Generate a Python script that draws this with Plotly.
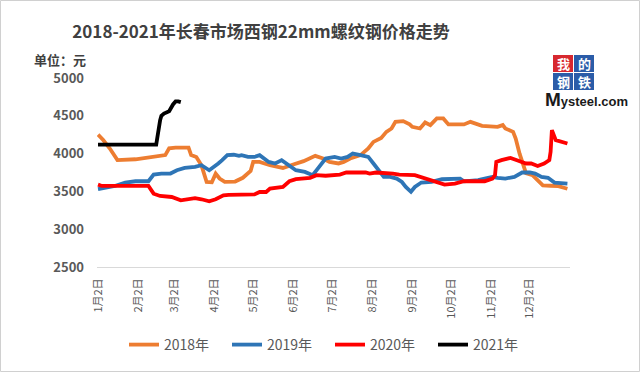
import plotly.graph_objects as go

# ---------------- data (month-day, price in 元) ----------------
d2018 = ["01-02","01-06","01-11","01-17","01-31","02-14","02-23","02-26","03-03","03-13",
         "03-15","03-19","03-23","03-27","03-31","04-03","04-06","04-10","04-18","04-24",
         "04-30","05-02","05-07","05-15","05-25","06-02","06-10","06-19","06-25","06-30",
         "07-07","07-11","07-16","07-24","07-30","08-03","08-09","08-13","08-17","08-20",
         "08-26","08-31","09-02","09-08","09-12","09-16","09-21","09-26","09-30","10-12",
         "10-17","10-26","11-07","11-11","11-13","11-19","11-21","11-24","11-27","11-29",
         "12-04","12-08","12-12","12-18","12-24","12-31"]
v2018 = [4250,4180,4070,3915,3925,3955,3980,4070,4080,4080,
         3980,3955,3845,3625,3620,3735,3670,3625,3630,3680,
         3770,3890,3890,3846,3810,3856,3900,3970,3935,3890,
         3870,3890,3935,3980,4067,4155,4208,4288,4332,4420,
         4430,4386,4354,4332,4412,4377,4465,4465,4386,4386,
         4420,4368,4354,4377,4332,4288,4200,4000,3850,3740,
         3714,3648,3581,3575,3570,3535]

d2019 = ["01-02","01-06","01-15","01-23","01-31","02-10","02-14","02-20","02-27","03-04",
         "03-10","03-18","03-23","03-29","04-03","04-05","04-08","04-12","04-17","04-21",
         "04-23","04-28","05-03","05-07","05-14","05-19","05-24","05-29","06-04","06-11",
         "06-17","06-22","06-27","07-04","07-09","07-14","07-18","07-24","07-30","08-03",
         "08-07","08-11","08-16","08-21","08-25","08-28","09-01","09-04","09-09","09-17",
         "09-25","10-02","10-09","10-12","10-23","10-28","11-03","11-07","11-13","11-20",
         "11-26","12-02","12-06","12-11","12-16","12-21","12-31"]
v2019 = [3530,3545,3572,3617,3634,3634,3723,3736,3736,3780,
         3810,3824,3846,3780,3837,3869,3913,3979,3985,3970,
         3979,3956,3956,3979,3890,3869,3913,3846,3780,3758,
         3714,3824,3935,3956,3935,3956,4001,3979,3956,3869,
         3780,3692,3692,3670,3625,3560,3495,3559,3617,3625,
         3661,3670,3670,3634,3648,3670,3692,3680,3670,3692,
         3750,3750,3736,3692,3680,3617,3603]

d2020 = ["01-02","01-05","02-10","02-14","02-19","02-28","03-07","03-13","03-18","03-23",
         "03-29","04-03","04-09","04-13","04-23","04-28","05-03","05-07","05-12","05-15",
         "05-25","05-30","06-04","06-15","06-20","06-27","07-08","07-13","07-28","07-31",
         "08-05","08-18","08-23","09-04","09-12","09-19","09-27","10-05","10-12","10-28",
         "11-03","11-05","11-06","11-10","11-17","11-22","11-29","12-03","12-08","12-13",
         "12-17","12-18","12-19","12-22","12-26","12-31"]
v2020 = [3590,3572,3572,3470,3440,3426,3382,3404,3411,3396,
         3369,3396,3449,3455,3455,3460,3460,3492,3492,3537,
         3559,3634,3661,3680,3714,3707,3723,3750,3750,3736,
         3750,3736,3723,3714,3670,3634,3590,3603,3634,3634,
         3670,3714,3890,3913,3943,3913,3869,3869,3837,3869,
         3913,4023,4310,4178,4155,4134]

d2021 = ["01-02","02-16","02-19","02-20","02-22","02-26","03-01","03-03","03-05","03-07"]
v2021 = [4120,4120,4440,4500,4530,4560,4650,4690,4690,4680]

series_names = ["2018年", "2019年", "2020年", "2021年"]
series_colors = ["#ED7D31", "#2E75B6", "#FF0000", "#000000"]

tick_months = list(range(1, 13))
tick_labels = [f"{m}月2日" for m in tick_months]
y_ticks = [2500, 3000, 3500, 4000, 4500, 5000]

BASE_YEAR = "2021"
def to_dates(md):
    return [f"{BASE_YEAR}-{s}" for s in md]

# ---------------- figure ----------------
W, H = 640, 372
L, R, T, B = 97, 70, 78, 105
pw, ph = W - L - R, H - T - B

def px(x):  # page pixel -> paper x
    return (x - L) / pw
def py(y):  # page pixel (from top) -> paper y
    return 1 - (y - T) / ph

fig = go.Figure()
for dates, vals, name, col in zip([d2018, d2019, d2020, d2021],
                                  [v2018, v2019, v2020, v2021],
                                  series_names, series_colors):
    fig.add_trace(go.Scatter(x=to_dates(dates), y=vals, mode="lines", name=name,
                             line=dict(color=col, width=3.8), hoverinfo="skip"))

font_cjk = "Noto Sans CJK SC, Noto Sans, sans-serif"

fig.update_layout(
    width=W, height=H,
    margin=dict(l=L, r=R, t=T, b=B, autoexpand=False),
    paper_bgcolor="white", plot_bgcolor="white",
    font=dict(family=font_cjk, color="#595959"),
    title=dict(text="<b>2018-2021年长春市场西钢22mm螺纹钢价格走势</b>",
               x=px(261), xanchor="center", y=1 - 32 / H, yanchor="middle",
               xref="paper", yref="container",
               font=dict(size=17, color="#404040", family=font_cjk)),
    showlegend=True,
    legend=dict(orientation="h", x=0.5 + 10 / W, xref="container", xanchor="center",
                y=1 - 345 / H, yref="container", yanchor="middle",
                font=dict(size=14, color="#595959", family=font_cjk),
                entrywidth=58, entrywidthmode="pixels",
                itemwidth=30, bgcolor="rgba(0,0,0,0)"),
    xaxis=dict(type="date",
               range=[f"{BASE_YEAR}-01-01 05:00", "2022-01-02"],
               tickvals=to_dates([f"{m:02d}-02" for m in tick_months]),
               ticktext=tick_labels, tickangle=-90,
               tickfont=dict(size=11, color="#595959", family=font_cjk),
               ticks="", ticklabelstandoff=6,
               showgrid=False, zeroline=False,
               showline=True, linecolor="#D9D9D9", linewidth=1),
    yaxis=dict(range=[2500, 5000], tickvals=y_ticks,
               ticktext=[f"<b>{v}</b>" for v in y_ticks],
               tickfont=dict(size=13, color="#595959", family=font_cjk),
               ticks="", ticklabelstandoff=12,
               showgrid=False, zeroline=False, showline=False),
)

# unit label
fig.add_annotation(text="<b>单位：元</b>", x=px(60), y=py(60), xref="paper", yref="paper",
                   showarrow=False, xanchor="center", yanchor="middle",
                   font=dict(size=13, color="#404040", family=font_cjk))

# outer border
fig.add_shape(type="rect", xref="paper", yref="paper",
              x0=px(0.5), x1=px(W - 0.5), y0=py(H - 0.5), y1=py(0.5),
              line=dict(color="#D0D0D0", width=1), fillcolor="rgba(0,0,0,0)", layer="below")

# logo
logo = [("我", 553, 55, "#D7282F"), ("的", 574, 55, "#2B5CA8"),
        ("钢", 553, 73, "#2B5CA8"), ("铁", 574, 73, "#2B5CA8")]
for ch, x0, y0, c in logo:
    fig.add_shape(type="rect", xref="paper", yref="paper",
                  x0=px(x0), x1=px(x0 + 20), y0=py(y0 + 17), y1=py(y0),
                  line=dict(width=0), fillcolor=c)
    fig.add_annotation(text=f"<b>{ch}</b>", x=px(x0 + 10), y=py(y0 + 8.5),
                       xref="paper", yref="paper", showarrow=False,
                       xanchor="center", yanchor="middle", borderpad=0,
                       font=dict(size=13, color="white", family=font_cjk))
fig.add_annotation(text="<b><span style='font-size:19px'>M</span>ysteel.com</b>",
                   x=px(586), y=py(99), xref="paper", yref="paper", showarrow=False,
                   xanchor="center", yanchor="middle",
                   font=dict(size=13, color="#1A1A1A", family="Liberation Sans, Arial, sans-serif"))

fig.write_html("out.html", config={"displayModeBar": False},
               post_script="document.body.style.margin='0';document.body.style.padding='0';")
